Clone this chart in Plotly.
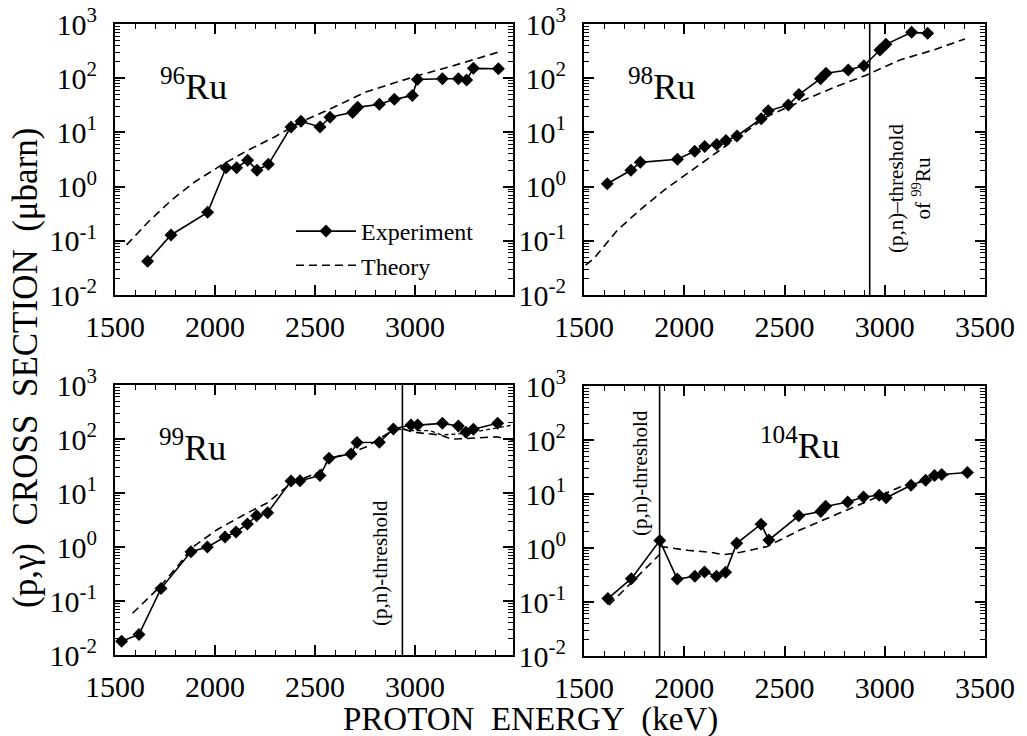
import plotly.graph_objects as go

# ---------------- data ----------------
# 96Ru
e96_exp = [1663, 1780, 1963, 2055, 2108, 2163, 2210, 2267, 2380, 2430, 2525, 2575, 2688, 2713,
           2822, 2897, 2987, 3012, 3137, 3217, 3258, 3292, 3417]
s96_exp = [0.042, 0.128, 0.335, 2.23, 2.23, 3.05, 2.0, 2.58, 12.6, 16, 12.6, 19, 23.4, 29,
           33, 40.7, 48, 95, 98, 98, 93, 152, 149]
e96_th = [1558, 1667, 1783, 1900, 2033, 2167, 2300, 2433, 2583, 2758, 3008, 3175, 3425]
s96_th = [0.084, 0.225, 0.566, 1.23, 2.51, 4.73, 8.34, 15.7, 27.9, 56.5, 110, 163, 309]

# 98Ru
e98_exp = [1616, 1734, 1781, 1966, 2052, 2102, 2162, 2208, 2263, 2384, 2419, 2519, 2572, 2680,
           2707, 2818, 2896, 2976, 3006, 3134, 3214]
s98_exp = [1.13, 2.0, 2.8, 3.2, 4.5, 5.5, 6.0, 7.1, 8.6, 17.9, 25, 32, 50, 98,
           123, 142, 170, 331, 421, 702, 672]
e98_th = [1508, 1550, 1667, 1783, 1900, 2017, 2133, 2250, 2411, 2577, 2744, 2910, 3076, 3242, 3400]
s98_th = [0.0355, 0.0475, 0.158, 0.381, 0.865, 1.76, 3.56, 7.24, 19.5, 36.9, 66.8, 115, 217, 331, 528]

# 99Ru
e99_exp = [1533, 1620, 1730, 1880, 1962, 2050, 2105, 2162, 2208, 2263, 2380, 2425, 2525, 2570,
           2680, 2710, 2822, 2892, 2980, 3013, 3137, 3217, 3255, 3292, 3413]
s99_exp = [0.018, 0.024, 0.17, 0.82, 1.0, 1.53, 1.9, 2.67, 3.8, 4.3, 16.7, 16.9, 21, 44,
           53, 86, 87, 153, 181, 181, 195, 174, 133, 151, 195]
e99_th = [1588, 1725, 1825, 1880, 2008, 2158, 2258, 2380, 2525, 2575, 2675, 2758, 2892, 2942]
s99_th = [0.0592, 0.184, 0.499, 0.944, 2.07, 4.2, 6.44, 15.1, 24.8, 43.9, 54.3, 72.1, 147, 153]
e99_th_a = [2942, 2975, 3075, 3133, 3258, 3490]
s99_th_a = [153, 143, 143, 119, 127, 182]
e99_th_b = [2942, 2992, 3125, 3183, 3258, 3408, 3490]
s99_th_b = [153, 133, 119, 100, 102, 110, 95]

# 104Ru
e104_exp = [1619, 1736, 1878, 1965, 2053, 2101, 2161, 2206, 2262, 2383, 2422, 2571, 2681, 2705,
            2815, 2894, 2972, 3007, 3131, 3204, 3248, 3284, 3412]
s104_exp = [0.116, 0.27, 1.37, 0.266, 0.30, 0.36, 0.30, 0.354, 1.22, 2.76, 1.41, 3.94, 4.75, 5.9,
            7.1, 8.8, 9.5, 8.5, 14.5, 17.9, 21.9, 23, 25]
e104_th_a = [1624, 1732, 1877]
s104_th_a = [0.0875, 0.221, 0.759]
e104_th_b = [1880, 2016, 2132, 2197, 2281, 2414, 2579, 2745, 2911, 3077, 3226, 3318]
s104_th_b = [1.07, 0.906, 0.832, 0.753, 0.832, 1.07, 2.17, 3.94, 7.28, 13.5, 19.2, 22.8]

# (p,n) thresholds (keV)
thr98 = 2925
thr99 = 2937
thr104 = 1877

y_tickvals = [0.01, 0.1, 1, 10, 100, 1000]
y_ticktext = ["10<sup>-2</sup>", "10<sup>-1</sup>", "10<sup>0</sup>", "10<sup>1</sup>",
              "10<sup>2</sup>", "10<sup>3</sup>"]
x_tickvals_a = [1500, 2000, 2500, 3000]
x_tickvals_b = [1500, 2000, 2500, 3000, 3500]

# ---------------- layout helpers ----------------
W, H = 1027, 736
FONT = "Liberation Serif, Times New Roman, serif"


def px(x):
    return x / W


def py(y):
    return 1 - y / H


panels = [
    # (x0, x1, y0, y1, xmax, xticks)
    (115, 513, 24, 295, 3490, x_tickvals_a),
    (584, 985, 24, 295, 3500, x_tickvals_b),
    (115, 513, 385, 655, 3490, x_tickvals_a),
    (584, 985, 386, 656, 3500, x_tickvals_b),
]

fig = go.Figure()

exp_style = dict(mode="lines+markers", line=dict(color="black", width=1.6),
                 marker=dict(symbol="diamond", size=10, color="black"))
th_style = dict(mode="lines", line=dict(color="black", width=1.6, dash="8px,5px"))


def add(i, x, y, style, name=None, show=False):
    ax = "" if i == 0 else str(i + 1)
    fig.add_trace(go.Scatter(x=x, y=y, xaxis="x" + ax, yaxis="y" + ax,
                             name=name, showlegend=show, **style))


# panel 1
add(0, e96_exp, s96_exp, exp_style, "Experiment", True)
add(0, e96_th, s96_th, th_style, "Theory", True)
# panel 2
add(1, e98_th, s98_th, th_style)
add(1, [thr98, thr98], [0.01, 1000], dict(mode="lines", line=dict(color="black", width=1.6)))
add(1, e98_exp, s98_exp, exp_style)
# panel 3
add(2, e99_th, s99_th, th_style)
add(2, e99_th_a, s99_th_a, dict(mode="lines", line=dict(color="black", width=1.4, dash="4px,3px")))
add(2, e99_th_b, s99_th_b, th_style)
add(2, [thr99, thr99], [0.01, 1000], dict(mode="lines", line=dict(color="black", width=1.6)))
add(2, e99_exp, s99_exp, exp_style)
# panel 4
add(3, e104_th_a, s104_th_a, th_style)
add(3, e104_th_b, s104_th_b, th_style)
add(3, [thr104, thr104], [0.01, 1000], dict(mode="lines", line=dict(color="black", width=1.6)))
add(3, e104_exp, s104_exp, exp_style)

layout = dict(
    width=W, height=H, autosize=False,
    margin=dict(l=0, r=0, t=0, b=0, pad=0, autoexpand=False),
    paper_bgcolor="white", plot_bgcolor="white",
    font=dict(family=FONT, color="black", size=30),
    showlegend=True,
    legend=dict(x=px(291), y=py(209), xanchor="left", yanchor="top",
                bgcolor="rgba(0,0,0,0)", font=dict(size=24, family=FONT),
                tracegroupgap=0, itemwidth=60),
)

for i, (x0, x1, y0, y1, xmax, xt) in enumerate(panels):
    ax = "" if i == 0 else str(i + 1)
    common = dict(showline=True, linecolor="black", linewidth=2, mirror="allticks",
                  ticks="inside", tickcolor="black", tickwidth=1.5, showgrid=False,
                  zeroline=False, automargin=False, tickfont=dict(size=30, family=FONT))
    layout["xaxis" + ax] = dict(
        domain=[px(x0), px(x1)], anchor="y" + ax, range=[1500, xmax],
        tickvals=xt, ticktext=[str(v) for v in xt], ticklen=10, ticklabelstandoff=4,
        minor=dict(ticks="inside", dtick=100, ticklen=5, tickcolor="black", tickwidth=1.2),
        **common)
    layout["yaxis" + ax] = dict(
        domain=[py(y1), py(y0)], anchor="x" + ax, type="log", range=[-2, 3],
        tickvals=y_tickvals, ticktext=y_ticktext, ticklen=10, ticklabelstandoff=10,
        minor=dict(ticks="inside", dtick="D1", ticklen=5, tickcolor="black", tickwidth=1),
        **common)

fig.update_layout(**layout)

ann = []
base = dict(xref="paper", yref="paper", showarrow=False, xanchor="center", yanchor="middle")
iso = dict(font=dict(size=36, family=FONT), **base)
ann.append(dict(text="<sup>96</sup>Ru", x=px(193), y=py(85), **iso))
ann.append(dict(text="<sup>98</sup>Ru", x=px(661), y=py(85), **iso))
ann.append(dict(text="<sup>99</sup>Ru", x=px(192), y=py(445), **iso))
ann.append(dict(text="<sup>104</sup>Ru", x=px(800), y=py(443), **iso))

thr = dict(textangle=-90, font=dict(size=21, family=FONT), **base)
ann.append(dict(text="(p,n)\u2013threshold<br>of <sup>99</sup>Ru", x=px(909), y=py(189), **thr))
ann.append(dict(text="(p,n)-threshold", x=px(380), y=py(563), **thr))
ann.append(dict(text="(p,n)-threshold", x=px(640), y=py(473), **thr))

ann.append(dict(text="PROTON\u00a0\u00a0ENERGY\u00a0\u00a0(keV)", x=px(530), y=py(719),
                font=dict(size=33, family=FONT), **base))
ann.append(dict(text="(p,\u03b3)\u00a0\u00a0CROSS\u00a0\u00a0SECTION\u00a0\u00a0(\u03bcbarn)",
                x=px(25), y=py(368), textangle=-90, font=dict(size=35, family=FONT), **base))

fig.update_layout(annotations=ann)
fig.write_html("out.html", config={"displayModeBar": False},
               post_script="document.body.style.margin='0';document.body.style.padding='0';")
